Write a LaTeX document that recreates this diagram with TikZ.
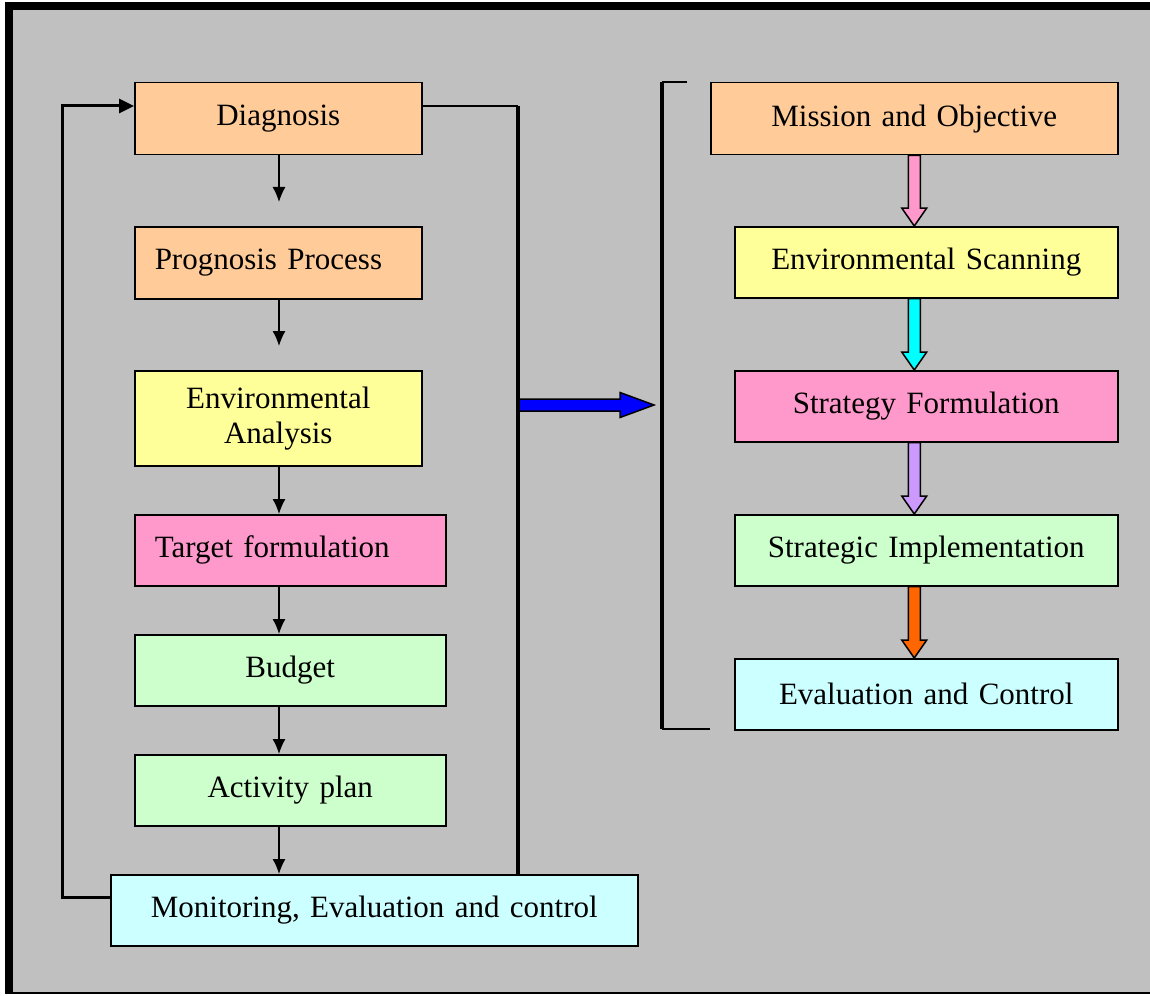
\documentclass[tikz,border=0pt]{standalone}
\usepackage{fontspec}
\setmainfont{Liberation Serif}
\usetikzlibrary{arrows.meta, calc}
\definecolor{panel}{HTML}{C0C0C0}
\definecolor{peach}{HTML}{FFCC99}
\definecolor{lemon}{HTML}{FFFF99}
\definecolor{rose}{HTML}{FF99CC}
\definecolor{mint}{HTML}{CCFFCC}
\definecolor{ice}{HTML}{CCFFFF}
\definecolor{aqua}{HTML}{00FFFF}
\definecolor{lilac}{HTML}{CC99FF}
\definecolor{tangerine}{HTML}{FF6600}
\definecolor{royal}{HTML}{0000FF}
\tikzset{
	box/.style={draw, line width=1.5pt, inner xsep=20pt, inner ysep=3pt, align=center, anchor=north west, font=\fontsize{31}{35}\selectfont},
	peachbox/.style={box, fill=peach},
	lemonbox/.style={box, fill=lemon},
	rosebox/.style={box, fill=rose},
	mintbox/.style={box, fill=mint},
	icebox/.style={box, fill=ice},
	flow/.style={line width=1.3pt, -{Latex[length=15pt, width=13pt]}},
	% thick feedback and bracket lines
	heavy/.style={line width=4pt},
	light/.style={line width=1.5pt},
	fat/.style={draw, line width=1.5pt, line join=miter},
}
% block arrow between two boxes of the right column
\newcommand{\fatdown}[3]{
	\draw[fat, fill=#3] let \p1=(axis |- #1.south), \p2=(axis |- #2.north) in
		(\x1-6pt,\y1) -- (\x1+6pt,\y1) -- (\x1+6pt,\y2+18pt) -- (\x1+12.5pt,\y2+18pt)
		-- (\x2,\y2) -- (\x1-12.5pt,\y2+18pt) -- (\x1-6pt,\y2+18pt) -- cycle;
}

\begin{document}
\begin{tikzpicture}[x=1pt, y=-1pt]
	\useasboundingbox (0,0) rectangle (1150,995);
	\fill[panel] (9,6) rectangle (1152,993);
	\draw[line width=8pt, line join=miter] (9,993) -- (9,6) -- (1152,6);
	\draw[line width=1.2pt] (5,993) -- (1152,993);
	
	% left column
	\node (diag) [peachbox, text width=247pt, minimum height=72pt] at (134,82) {Diagnosis};
	\node (prog) [peachbox, text width=247pt, align=left, minimum height=72pt] at (134,226) {Prognosis Process};
	\node (env) [lemonbox, text width=247pt, minimum height=95pt] at (134,370) {Environmental\\Analysis};
	\node (target) [rosebox, text width=271pt, align=left, minimum height=71pt] at (134,514) {Target formulation};
	\node (budget) [mintbox, text width=271pt, minimum height=71pt] at (134,634) {Budget};
	\node (activity) [mintbox, text width=271pt, minimum height=71pt] at (134,754) {Activity plan};
	\node (mon) [icebox, text width=487pt, minimum height=71pt] at (110,874) {Monitoring, Evaluation and control};
	
	% right column
	\node (mission) [peachbox, text width=367pt, minimum height=72pt] at (710,82) {Mission and Objective};
	\node (scan) [lemonbox, text width=343pt, minimum height=71pt] at (734,226) {Environmental Scanning};
	\node (strat) [rosebox, text width=343pt, minimum height=71pt] at (734,370) {Strategy Formulation};
	\node (impl) [mintbox, text width=343pt, minimum height=71pt] at (734,514) {Strategic Implementation};
	\node (evalc) [icebox, text width=343pt, minimum height=71pt] at (734,658) {Evaluation and Control};
	
	\coordinate (spine) at (279,0);
	\coordinate (fbtop) at (62,106);
	\coordinate (fbbot) at (62,897);
	\coordinate (rt) at (518,106);
	\coordinate (bt) at (662,82);
	\coordinate (btend) at (687,82);
	\coordinate (bb) at (662,729);
	\coordinate (axis) at (mission.south);
	
	\draw[flow, shorten >=24pt] (spine |- diag.south) -- (spine |- prog.north);
	\draw[flow, shorten >=24pt] (spine |- prog.south) -- (spine |- env.north);
	\draw[flow] (spine |- env.south) -- (spine |- target.north);
	\draw[flow] (spine |- target.south) -- (spine |- budget.north);
	\draw[flow] (spine |- budget.south) -- (spine |- activity.north);
	\draw[flow] (spine |- activity.south) -- (spine |- mon.north);
	
	% feedback loop
	\draw[line width=3pt, -{Triangle[length=15pt, width=14pt]}] (mon.west |- fbbot) -- (fbbot) -- (fbtop) -- (diag.west |- fbtop);
	
	% link to the strategic block
	\draw[fat, fill=royal] let \p1=(rt |- 0,405), \p2=(bt |- 0,405) in
		(\x1,\y1+6pt) -- (\x2-42pt,\y1+6pt) -- (\x2-42pt,\y1+12.5pt) -- (\x2-8pt,\y1)
		-- (\x2-42pt,\y1-12.5pt) -- (\x2-42pt,\y1-6pt) -- (\x1,\y1-6pt) -- cycle;
	\draw[light] (diag.east |- rt) -- (rt);
	\draw[heavy] (rt) -- (rt |- mon.north);
	\draw[heavy] (bt) -- (bb);
	\draw[light] (bt) -- (btend);
	\draw[light] (bb) -- (mission.west |- bb);
	
	\fatdown{mission}{scan}{rose}
	\fatdown{scan}{strat}{aqua}
	\fatdown{strat}{impl}{lilac}
	\fatdown{impl}{evalc}{tangerine}
\end{tikzpicture}
\end{document}
